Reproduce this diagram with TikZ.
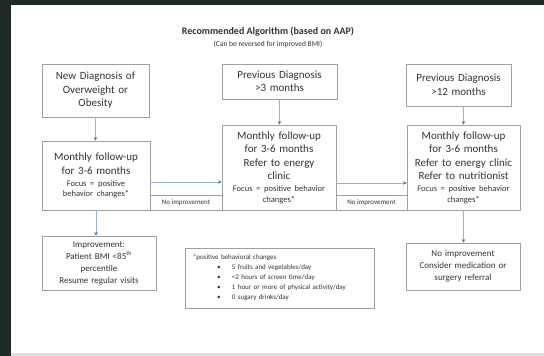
\documentclass[tikz,border=0pt]{standalone}
\usepackage{fontspec}
\setmainfont{Carlito}
\usetikzlibrary{arrows.meta,calc,shadows}
\definecolor{bgdark}{HTML}{1F2C25}
\definecolor{boxline}{HTML}{A0A0A0}
\definecolor{connc}{HTML}{9AB0D2}
\definecolor{tipc}{HTML}{4A6BA8}
\definecolor{txt}{HTML}{333333}
\newcommand\smblock[1]{\par\vspace{1.5pt}{\fontsize{8.5}{10.5}\selectfont #1\par}}
\tikzset{
  box/.style={draw=boxline, line width=0.8pt, fill=white, align=center,
    inner xsep=2pt, inner ysep=2pt, text=txt,
    font=\fontsize{11}{13.5}\selectfont,
    drop shadow={shadow xshift=0.8pt, shadow yshift=-0.8pt, opacity=0.25}},
  lbl/.style={draw=boxline, line width=0.8pt, fill=white, inner sep=0pt,
    text=txt, font=\fontsize{7}{8}\selectfont},
  arr/.style={draw=connc, line width=0.6pt,
    -{Stealth[length=3.5pt,width=3.5pt,color=tipc]}}
}
\begin{document}
\begin{tikzpicture}[x=1pt,y=-1pt]
\fill[bgdark] (0,0) rectangle (544,356);
\fill[black!12] (11,5) rectangle (544,356);
\fill[white] (11,5) rectangle (544,353);
\useasboundingbox (0,0) rectangle (544,356);

\node[text=txt, font=\bfseries\fontsize{10}{12}\selectfont] (title) at (268,32) {Recommended Algorithm (based on AAP)};
\node[text=txt, font=\fontsize{7.5}{9}\selectfont] (subtitle) at (268,44) {(Can be reversed for improved BMI)};

% top row
\node[box, minimum width=107pt, minimum height=53pt, text width=103pt] (a1) at (95.5,90.5) {New Diagnosis of\\Overweight or\\Obesity};
\node[box, minimum width=115pt, minimum height=35pt, text width=111pt] (b1) at (279.5,81.5) {Previous Diagnosis\\>3 months};
\node[box, minimum width=105pt, minimum height=42pt, text width=101pt] (c1) at (458.5,85) {Previous Diagnosis\\>12 months};

% middle row
\node[box, minimum width=108pt, minimum height=69pt, text width=104pt] (a2) at (96,175.5) {Monthly follow-up\\for 3-6 months\smblock{Focus = positive\\behavior changes*}};
\node[box, minimum width=114pt, minimum height=85pt, text width=110pt] (b2) at (279,167.5) {Monthly follow-up\\for 3-6 months\\Refer to energy\\clinic\smblock{Focus = positive behavior\\changes*}};
\node[box, minimum width=113pt, minimum height=85pt, text width=109pt] (c2) at (463.5,167.5) {Monthly follow-up\\for 3-6 months\\Refer to energy clinic\\Refer to nutritionist\smblock{Focus = positive behavior\\changes*}};

% labels
\node[lbl, minimum width=72pt, minimum height=15pt] (l1) at (186,202.5) {No improvement};
\node[lbl, minimum width=71pt, minimum height=15pt] (l2) at (371.5,202.5) {No improvement};

% bottom row
\node[box, minimum width=114pt, minimum height=54pt, text width=110pt, font=\fontsize{9}{12}\selectfont] (a3) at (99,263) {Improvement:\\Patient BMI <85\textsuperscript{th}\\percentile\\Resume regular visits};
\node[box, minimum width=114pt, minimum height=47pt, text width=110pt, font=\fontsize{9}{12}\selectfont] (c3) at (463,266.5) {No improvement\\Consider medication or\\surgery referral};
\node[box, minimum width=189pt, minimum height=60pt, text width=173pt, inner xsep=8pt, align=left, font=\fontsize{7}{10}\selectfont] (note) at (279.5,278) {*positive behavioral changes\\
\hspace*{24pt}\makebox[15pt][l]{\textbullet}5 fruits and vegetables/day\\
\hspace*{24pt}\makebox[15pt][l]{\textbullet}<2 hours of screen time/day\\
\hspace*{24pt}\makebox[15pt][l]{\textbullet}1 hour or more of physical activity/day\\
\hspace*{24pt}\makebox[15pt][l]{\textbullet}0 sugary drinks/day};

% connectors
\draw[arr] (a1.south) -- (a1.south |- a2.north);
\draw[arr] (b1.south) -- (b1.south |- b2.north);
\draw[arr] (c2.north |- c1.south) -- (c2.north);
\draw[arr] (a2.south) -- (a2.south |- a3.north);
\draw[arr] (c2.south) -- (c2.south |- c3.north);
\coordinate (h1) at ($(a2.east)+(0,6.5)$);
\coordinate (h2) at ($(b2.east)+(0,15.5)$);
\draw[arr] (h1) -- (h1 -| b2.west);
\draw[arr] (h2) -- (h2 -| c2.west);
\end{tikzpicture}
\end{document}
